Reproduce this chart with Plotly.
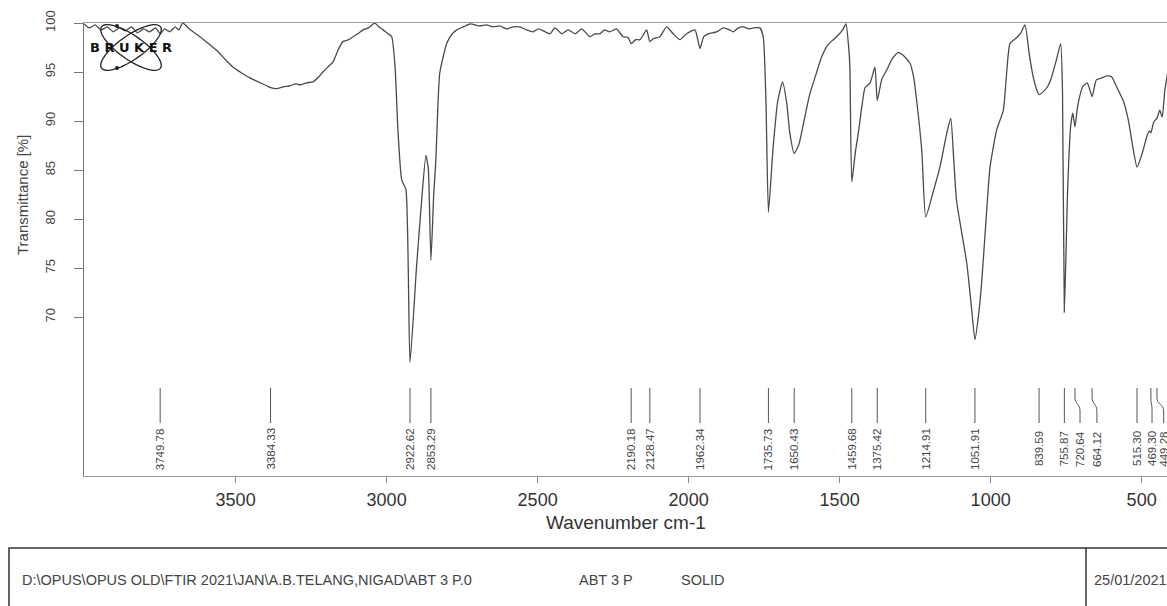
import numpy as np
import plotly.graph_objects as go

# ---------------- data ----------------
wavenumber = [
    4002, 3985, 3965, 3945, 3925, 3905, 3885, 3865, 3845, 3825, 3805, 3785, 3765, 3749.8, 3735, 3718, 3700, 3688,
    3675, 3650, 3618, 3590, 3562, 3535, 3509, 3480, 3453, 3425, 3397, 3384, 3364, 3340, 3320, 3300, 3287, 3265,
    3244, 3225, 3211, 3195, 3178, 3160, 3145, 3125, 3111, 3095, 3078, 3060, 3045, 3039, 3025, 3012, 2995, 2983,
    2972, 2962, 2950, 2936, 2922.6, 2901, 2884, 2870, 2862, 2853.3, 2844, 2837, 2824, 2801, 2785, 2768, 2746, 2724,
    2691, 2670, 2647, 2625, 2603, 2580, 2559, 2537, 2515, 2498, 2481, 2459, 2443, 2420, 2399, 2376, 2354, 2327,
    2310, 2294, 2278, 2261, 2239, 2217, 2200, 2190.2, 2175, 2161, 2139, 2128.5, 2117, 2095, 2073, 2051, 2029, 2007,
    1979, 1962.3, 1950, 1935, 1907, 1885, 1865, 1852, 1835, 1819, 1800, 1786, 1764, 1753, 1744, 1735.7, 1721, 1705,
    1689, 1675, 1665, 1650.4, 1635, 1622, 1600, 1576, 1560, 1543, 1525, 1510, 1490, 1479, 1470, 1466, 1459.7, 1448,
    1438, 1425, 1416, 1399, 1383, 1375.4, 1360, 1344, 1325, 1306, 1290, 1267, 1255, 1245, 1228, 1214.9, 1190, 1168,
    1145, 1132, 1122, 1113, 1095, 1079, 1065, 1051.9, 1040, 1030, 1015, 1002, 980, 958, 948, 936, 914, 900, 886,
    872, 859, 845, 839.6, 825, 810, 798, 780, 768, 762, 755.9, 745, 735, 728, 720.6, 712, 695, 680, 664.1, 650,
    632, 615, 599, 583, 560, 544, 530, 515.3, 500, 483, 475, 469.3, 460, 449, 440, 432, 423, 416, 410,
]
transmittance = [
    99.9, 99.5, 99.8, 99.3, 99.6, 99.1, 99.5, 99.2, 99.6, 99.0, 99.4, 99.1, 99.5, 98.9, 99.4, 99.1, 99.6, 99.3,
    100.0, 99.3, 98.6, 97.9, 97.2, 96.3, 95.5, 94.9, 94.4, 94.0, 93.6, 93.4, 93.3, 93.5, 93.6, 93.8, 93.7, 93.9,
    94.0, 94.5, 95.0, 95.5, 96.0, 97.3, 98.1, 98.3, 98.6, 98.9, 99.3, 99.5, 99.9, 100.0, 99.6, 99.3, 98.9, 98.6,
    95.5, 88.8, 84.0, 83.0, 65.4, 75.1, 81.9, 86.5, 85.2, 75.8, 82.5, 86.0, 94.9, 97.9, 98.8, 99.3, 99.6, 99.9,
    99.7, 99.8, 99.6, 99.7, 99.4, 99.6, 99.6, 99.3, 99.1, 99.4, 99.2, 98.9, 99.5, 98.9, 99.3, 98.9, 99.4, 98.6,
    98.9, 98.9, 99.3, 99.1, 99.4, 98.6, 98.5, 97.9, 98.3, 98.3, 99.3, 98.1, 98.4, 98.6, 99.6, 98.9, 98.3, 98.9,
    99.3, 97.4, 98.6, 98.9, 99.1, 99.5, 99.3, 99.1, 99.5, 99.6, 99.4, 99.5, 99.5, 98.6, 92.1, 80.7, 87.0, 92.0,
    94.0, 91.8, 88.8, 86.7, 87.6, 89.4, 92.6, 95.0, 96.5, 97.6, 98.2, 98.6, 99.3, 99.9, 97.5, 95.5, 83.8, 86.8,
    88.8, 91.8, 93.4, 93.9, 95.5, 92.1, 94.3, 95.2, 96.4, 97.0, 96.7, 95.9, 94.5, 92.1, 87.0, 80.2, 82.8, 85.3,
    88.8, 90.3, 86.0, 81.9, 78.5, 75.5, 71.5, 67.7, 70.2, 73.4, 80.0, 85.3, 89.1, 91.1, 94.5, 97.9, 98.5, 99.0, 99.8,
    96.8, 94.5, 93.0, 92.7, 93.0, 93.6, 94.5, 96.5, 97.9, 93.0, 70.5, 83.0, 89.5, 90.8, 89.4, 91.5, 93.5, 93.9, 92.5, 94.2,
    94.4, 94.6, 94.5, 93.5, 92.0, 90.1, 87.5, 85.3, 86.5, 88.4, 89.0, 88.8, 89.9, 90.3, 91.1, 90.4, 93.2, 94.5, 96.0,
]

peak_values = [3749.78, 3384.33, 2922.62, 2853.29, 2190.18, 2128.47, 1962.34, 1735.73, 1650.43,
               1459.68, 1375.42, 1214.91, 1051.91, 839.59, 755.87, 720.64, 664.12, 515.30, 469.30, 449.28]
peak_label_pos = [3749.78, 3384.33, 2922.62, 2853.29, 2190.18, 2128.47, 1962.34, 1735.73, 1650.43,
                  1459.68, 1375.42, 1214.91, 1051.91, 839.59, 755.87, 704.0, 648.0, 515.30, 465.6, 427.0]

x_ticks = [3500, 3000, 2500, 2000, 1500, 1000, 500]
y_ticks = [70, 75, 80, 85, 90, 95, 100]

file_path = r"D:\OPUS\OPUS OLD\FTIR 2021\JAN\A.B.TELANG,NIGAD\ABT 3 P.0"
sample_name = "ABT 3 P"
sample_form = "SOLID"
meas_date = "25/01/2021"

# ---------------- geometry helpers (pixel -> paper) ----------------
FIG_W, FIG_H = 1167, 606
PL, PR, PT, PB = 84, 1167, 23, 476
PW, PH = PR - PL, PB - PT


def px(x):
    return (x - PL) / PW


def py(y):
    return (PB - y) / PH


FONT = "Liberation Sans, Arial, sans-serif"

fig = go.Figure()
fig.add_trace(go.Scatter(x=wavenumber, y=transmittance, mode="lines",
                         line=dict(color="#4a4a4a", width=1.3, shape="spline", smoothing=0.5),
                         hoverinfo="skip"))

shapes = []
annotations = []

# peak marker lines and labels
y_top, y_mid1, y_mid2, y_bot = py(388), py(398), py(411), py(423)
for val, pos in zip(peak_values, peak_label_pos):
    if abs(val - pos) < 1e-6:
        path = f"M {val},{y_top} L {val},{y_bot}"
    else:
        ya = py(404)
        path = (f"M {val},{y_top} L {val},{y_mid1} "
                f"C {val},{ya} {pos},{ya} {pos},{y_mid2} L {pos},{y_bot}")
    shapes.append(dict(type="path", xref="x", yref="paper", path=path,
                       line=dict(color="#555", width=1)))
    annotations.append(dict(x=pos, xref="x", y=py(449), yref="paper", text=f"{val:.2f}",
                            textangle=-90, showarrow=False, xanchor="center", yanchor="middle",
                            font=dict(family=FONT, size=11.5, color="#444")))

# axis titles
annotations.append(dict(x=px(22), y=py(195), xref="paper", yref="paper", text="Transmittance [%]",
                        textangle=-90, showarrow=False, xanchor="center", yanchor="middle",
                        font=dict(family=FONT, size=15, color="#444")))
annotations.append(dict(x=0.5, y=py(522), xref="paper", yref="paper", text="Wavenumber cm-1",
                        showarrow=False, xanchor="center", yanchor="middle",
                        font=dict(family=FONT, size=19, color="#333")))

# bottom info box
shapes.append(dict(type="rect", xref="paper", yref="paper", x0=px(9), x1=px(1190),
                   y0=py(548), y1=py(640), line=dict(color="#333", width=1.5)))
shapes.append(dict(type="line", xref="paper", yref="paper", x0=px(1086), x1=px(1086),
                   y0=py(548), y1=py(640), line=dict(color="#333", width=1.5)))
for txt, x0 in [(file_path, 20), (sample_name, 577), (sample_form, 679), (meas_date, 1092)]:
    annotations.append(dict(x=px(x0), y=py(580), xref="paper", yref="paper", text=txt,
                            showarrow=False, xanchor="left", yanchor="middle",
                            font=dict(family=FONT, size=14.5, color="#444")))

# BRUKER logo (decoration)
cx, cy, a, b = 131, 47.5, 36, 12
t = np.linspace(0, 2 * np.pi, 60)
for ang in (35, -35):
    th = np.deg2rad(ang)
    ex = cx + a * np.cos(t) * np.cos(th) - b * np.sin(t) * np.sin(th)
    ey = cy + a * np.cos(t) * np.sin(th) + b * np.sin(t) * np.cos(th)
    pth = "M " + " L ".join(f"{px(xx):.5f},{py(yy):.5f}" for xx, yy in zip(ex, ey)) + " Z"
    shapes.append(dict(type="path", xref="paper", yref="paper", path=pth,
                       line=dict(color="#222", width=1.3)))
for dx, dy in [(117, 26), (117, 68)]:
    shapes.append(dict(type="circle", xref="paper", yref="paper", x0=px(dx - 2), x1=px(dx + 2),
                       y0=py(dy + 2), y1=py(dy - 2), fillcolor="#222", line=dict(width=0)))
annotations.append(dict(x=px(131), y=py(47.5), xref="paper", yref="paper", text="<b>B R U K E R</b>",
                        showarrow=False, xanchor="center", yanchor="middle",
                        font=dict(family="DejaVu Sans, sans-serif", size=13, color="#111")))

fig.update_layout(
    width=FIG_W, height=FIG_H,
    margin=dict(l=PL, r=FIG_W - PR, t=PT, b=FIG_H - PB, pad=0),
    paper_bgcolor="white", plot_bgcolor="white", showlegend=False,
    shapes=shapes, annotations=annotations,
    xaxis=dict(range=[4002, 416], tickvals=x_ticks, ticks="outside", ticklen=6, tickcolor="#888",
               showline=True, linecolor="#999", linewidth=1, mirror=True, showgrid=False,
               zeroline=False, ticklabelstandoff=1,
               tickfont=dict(family=FONT, size=18, color="#333")),
    yaxis=dict(range=[53.8, 100], tickvals=y_ticks, tickangle=-90, ticks="outside", ticklen=9,
               tickcolor="#777", showline=True, linecolor="#777", linewidth=1, showgrid=False,
               zeroline=False, ticklabelstandoff=14,
               tickfont=dict(family=FONT, size=13, color="#444")),
)

fig.write_html("out.html", config={"displayModeBar": False},
               post_script="document.body.style.margin='0px';")
